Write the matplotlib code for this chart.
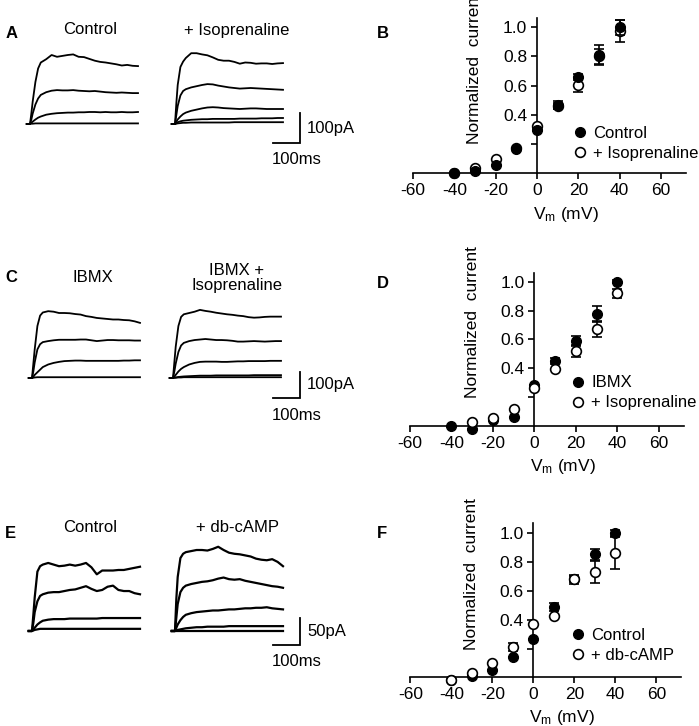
import numpy as np
import matplotlib
matplotlib.use('Agg')
import matplotlib.pyplot as plt
from matplotlib.lines import Line2D

plt.rcParams.update({
    'font.family': ['Liberation Sans', 'DejaVu Sans'],
    'axes.unicode_minus': False,
    'mathtext.fontset': 'custom',
    'mathtext.rm': 'Liberation Sans',
    'mathtext.it': 'Liberation Sans:italic',
    'mathtext.bf': 'Liberation Sans:bold',
})

# ---- current traces (pA) sampled at these times (ms from step onset) ----
t_ms = [-12, 0, 5, 10, 20, 30, 40, 60, 80, 100, 120, 140, 160, 180, 200,
        220, 240, 260, 280, 300, 320, 340, 360, 380, 400]

a_control = [
    [0, 0, 35, 75, 140, 185, 205, 216, 230, 224, 227, 230, 232, 224, 223, 217, 211, 207, 205, 202, 199, 195, 197, 194, 193],
    [0, 0, 15, 35, 65, 85, 97, 106, 111, 113, 112, 112, 113, 111, 110, 109, 110, 108, 106, 105, 104, 105, 104, 103, 103],
    [0, 0, 4, 8, 15, 21, 25, 31, 34, 36, 37, 38, 38, 39, 39, 40, 40, 39, 40, 39, 39, 40, 39, 39, 40],
    [0, 0, 1, 1, 2, 2, 2, 2, 2, 2, 2, 2, 2, 2, 2, 2, 2, 2, 2, 2, 2, 2, 2, 2, 2],
]
a_iso = [
    [0, 0, 70, 130, 190, 208, 220, 236, 236, 232, 229, 222, 214, 211, 211, 207, 201, 205, 204, 201, 202, 202, 200, 202, 203],
    [0, 0, 30, 60, 95, 110, 116, 122, 126, 130, 133, 132, 128, 125, 122, 120, 118, 119, 120, 119, 118, 117, 116, 115, 114],
    [0, 0, 8, 15, 25, 33, 38, 44, 48, 52, 55, 56, 55, 53, 52, 51, 50, 51, 52, 52, 51, 50, 50, 50, 50],
    [0, 0, 3, 6, 9, 11, 12, 14, 15, 16, 16, 17, 17, 17, 17, 17, 18, 18, 18, 18, 19, 19, 19, 20, 20],
    [0, 0, 1, 2, 3, 4, 4, 5, 5, 5, 5, 5, 5, 5, 5, 6, 6, 6, 6, 6, 6, 6, 6, 6, 6],
]
c_ibmx = [
    [0, 0, 55, 110, 200, 240, 252, 257, 255, 250, 250, 249, 246, 244, 238, 235, 231, 229, 227, 225, 225, 223, 222, 218, 212],
    [0, 0, 25, 60, 110, 130, 138, 142, 145, 147, 147, 147, 147, 148, 148, 145, 142, 144, 146, 146, 145, 145, 145, 144, 144],
    [0, 0, 5, 12, 22, 32, 42, 52, 58, 62, 65, 66, 67, 67, 66, 66, 66, 66, 66, 66, 66, 67, 67, 68, 68],
    [0, 0, 1, 2, 3, 3, 3, 3, 3, 3, 3, 3, 3, 3, 3, 3, 3, 3, 3, 3, 3, 3, 3, 3, 3],
]
c_iso = [
    [0, 0, 60, 120, 200, 235, 245, 250, 255, 262, 258, 255, 251, 248, 245, 243, 240, 238, 234, 232, 233, 235, 236, 236, 236],
    [0, 0, 25, 55, 100, 125, 135, 142, 146, 148, 150, 148, 146, 146, 145, 143, 140, 140, 141, 142, 141, 140, 141, 142, 142],
    [0, 0, 5, 12, 25, 35, 42, 52, 58, 62, 63, 63, 63, 62, 62, 63, 64, 64, 65, 65, 65, 65, 66, 66, 66],
    [0, 0, 1, 2, 4, 5, 6, 7, 8, 9, 9, 9, 10, 10, 10, 10, 10, 10, 10, 11, 11, 11, 11, 11, 11],
    [0, 0, 1, 1, 2, 2, 3, 3, 3, 3, 3, 3, 3, 3, 3, 3, 3, 3, 3, 3, 3, 3, 3, 3, 3],
]
e_control = [
    [0, 0, 30, 62, 110, 120, 123, 126, 123, 120, 121, 123, 121, 123, 126, 118, 105, 112, 112, 112, 113, 113, 115, 117, 119],
    [0, 0, 15, 35, 55, 65, 68, 71, 72, 72, 74, 76, 77, 80, 83, 78, 74, 76, 82, 84, 76, 74, 74, 70, 68],
    [0, 0, 3, 6, 12, 16, 19, 21, 22, 22, 22, 23, 23, 23, 23, 23, 23, 24, 24, 24, 24, 24, 24, 24, 24],
    [0, 0, 1, 2, 3, 4, 4, 4, 4, 4, 4, 4, 4, 4, 4, 4, 4, 4, 4, 4, 4, 4, 4, 4, 4],
]
e_dbcamp = [
    [0, 0, 60, 100, 135, 143, 146, 148, 150, 150, 149, 152, 156, 150, 145, 143, 142, 140, 138, 134, 132, 131, 133, 128, 120],
    [0, 0, 25, 50, 72, 80, 84, 87, 89, 91, 92, 94, 97, 99, 96, 95, 96, 93, 91, 89, 87, 85, 83, 82, 80],
    [0, 0, 6, 12, 20, 26, 30, 33, 35, 36, 37, 38, 38, 39, 40, 40, 41, 42, 42, 43, 43, 44, 42, 41, 40],
    [0, 0, 1, 2, 3, 4, 5, 6, 7, 7, 8, 8, 8, 8, 9, 9, 9, 9, 9, 9, 9, 9, 9, 9, 9],
    [0, 0, 0, 0, 0, 0, 0, 0, 0, 0, 0, 0, 0, 0, 0, 0, 0, 0, 0, 0, 0, 0, 0, 0, 0],
]

# ---- normalized I-V data ----
vm = [-40, -30, -20, -10, 0, 10, 20, 30, 40]

b_control = [0.005, 0.018, 0.057, 0.166, 0.296, 0.467, 0.656, 0.809, 0.998]
b_control_err = [0, 0, 0, 0, 0.01, 0.03, 0.02, 0.07, 0.05]
b_iso = [0.0, 0.034, 0.096, 0.175, 0.323, 0.46, 0.604, 0.80, 0.975]
b_iso_err = [0, 0, 0, 0, 0, 0.02, 0.045, 0.05, 0.075]

d_ibmx = [0.0, -0.023, 0.04, 0.065, 0.284, 0.45, 0.589, 0.776, 1.0]
d_ibmx_err = [0, 0, 0, 0, 0, 0.02, 0.037, 0.055, 0.01]
d_iso = [np.nan, 0.03, 0.053, 0.118, 0.261, 0.393, 0.522, 0.672, 0.919]
d_iso_err = [0, 0, 0, 0, 0, 0, 0.042, 0.053, 0.03]

f_control = [-0.018, 0.01, 0.05, 0.143, 0.264, 0.486, 0.68, 0.854, 1.0]
f_control_err = [0, 0, 0, 0, 0, 0.028, 0.02, 0.04, 0.02]
f_dbcamp = [-0.018, 0.032, 0.097, 0.208, 0.37, 0.426, 0.68, 0.729, 0.861]
f_dbcamp_err = [0, 0, 0, 0.028, 0, 0, 0.03, 0.076, 0.11]

W, H = 699, 726
fig = plt.figure(figsize=(W / 100, H / 100), dpi=100)


def px_axes(x0, y0, x1, y1):
    return fig.add_axes([x0 / W, 1 - y1 / H, (x1 - x0) / W, (y1 - y0) / H])


def ftext(x, y, s, **kw):
    fig.text(x / W, 1 - y / H, s, **kw)


MS_PX = 0.27  # pixels per ms (100 ms bar = 27 px)


def trace_panel(top, bot, base, on_l, on_r, pa_px, left, right, bar_pa, bar_bot, lw):
    ax = px_axes(20, top, 345, bot)
    ax.set_xlim((20 - on_l) / MS_PX, (345 - on_l) / MS_PX)
    ax.set_ylim((base - bot) / pa_px, (base - top) / pa_px)
    ax.axis('off')
    shift = (on_r - on_l) / MS_PX
    t = np.array(t_ms)
    for tr in left:
        ax.plot(t, tr, color='k', lw=lw)
    for tr in right:
        ax.plot(t + shift, tr, color='k', lw=lw)
    bx = (300 - on_l) / MS_PX
    by = (base - bar_bot) / pa_px
    ax.plot([bx - 100, bx, bx], [by, by, by + bar_pa], color='k', lw=1.3,
            solid_joinstyle='miter', clip_on=False)
    ax.text(bx + 7 / MS_PX, by + bar_pa / 2, f'{bar_pa}pA', ha='left', va='center',
            fontsize=12, clip_on=False)
    ax.text(bx - 3 / MS_PX, by - 17 / pa_px, '100ms', ha='center', va='center',
            fontsize=12, clip_on=False)
    return ax


def iv_panel(ox, oy, sx, sy, top, filled, filled_err, opened, opened_err,
             labels, open_on_top, leg_x, leg_y):
    xlo, xhi, ylo = -60, 72, -0.15
    ax = px_axes(ox + xlo * sx, oy - top * sy, ox + xhi * sx, oy - ylo * sy)
    ax.set_xlim(xlo, xhi)
    ax.set_ylim(ylo, top)
    ax.patch.set_alpha(0)
    for s in ['top', 'right']:
        ax.spines[s].set_visible(False)
    ax.spines['bottom'].set_position(('data', 0))
    ax.spines['left'].set_position(('data', 0))
    ax.spines['left'].set_bounds(0, top)
    for s in ['bottom', 'left']:
        ax.spines[s].set_linewidth(1.2)
    ax.set_xticks([-60, -40, -20, 0, 20, 40, 60])
    ax.set_yticks([0.2, 0.4, 0.6, 0.8, 1.0])
    ax.set_yticklabels(['', '0.4', '0.6', '0.8', '1.0'])
    ax.tick_params(direction='out', length=4, width=1.2, labelsize=12.5, pad=3)
    z_f, z_o = (3, 4) if open_on_top else (4, 3)
    ax.errorbar(vm, filled, yerr=filled_err, fmt='o', ms=7, mfc='k', mec='k',
                ecolor='k', elinewidth=1.2, capsize=3.5, capthick=1.2, zorder=z_f)
    ax.errorbar(vm, opened, yerr=opened_err, fmt='o', ms=7, mfc='white', mec='k',
                mew=1.2, ecolor='k', elinewidth=1.2, capsize=3.5, capthick=1.2, zorder=z_o)
    ax.text(-30, 0.72, 'Normalized  current', rotation=90, ha='center', va='center',
            fontsize=12.5)
    ax.text(14, -0.28, r'V$_{\rm m}$ (mV)', ha='center', va='center', fontsize=12.5)
    handles = [Line2D([], [], ls='', marker='o', ms=7, mfc='k', mec='k'),
               Line2D([], [], ls='', marker='o', ms=7, mfc='white', mec='k', mew=1.2)]
    ax.legend(handles, labels, loc='center left', bbox_to_anchor=(leg_x, leg_y),
              bbox_transform=ax.transData, frameon=False, fontsize=12,
              borderpad=0, borderaxespad=0, handlelength=1.0, handletextpad=0.3,
              labelspacing=0.3)
    return ax


# ---- trace rows ----
trace_panel(38, 172, 124, 30, 175, 0.30, a_control, a_iso, 100, 143, 1.3)
trace_panel(298, 425, 378, 32, 173, 0.26, c_ibmx, c_iso, 100, 398, 1.3)
trace_panel(528, 680, 631, 32, 175, 0.54, e_control, e_dbcamp, 50, 645, 1.6)

ftext(90, 30, 'Control', ha='center', va='center', fontsize=12)
ftext(237, 30, '+ Isoprenaline', ha='center', va='center', fontsize=12)
ftext(93, 278, 'IBMX', ha='center', va='center', fontsize=12)
ftext(237, 278, 'IBMX +\nIsoprenaline', ha='center', va='center', fontsize=12,
      linespacing=1.0)
ftext(90, 528, 'Control', ha='center', va='center', fontsize=12)
ftext(237, 528, '+ db-cAMP', ha='center', va='center', fontsize=12)

# ---- I-V plots ----
iv_panel(537, 173.3, 2.067, 146.3, 1.06, b_control, b_control_err, b_iso, b_iso_err,
         ['Control', '+ Isoprenaline'], False, 16.7, 0.207)
iv_panel(534.3, 426, 2.075, 144.3, 1.062, d_ibmx, d_ibmx_err, d_iso, d_iso_err,
         ['IBMX', '+ Isoprenaline'], True, 17, 0.229)
iv_panel(533.3, 677.3, 2.05, 144, 1.07, f_control, f_control_err, f_dbcamp, f_dbcamp_err,
         ['Control', '+ db-cAMP'], True, 17.7, 0.22)

# ---- panel letters ----
for letter, x, y in [('A', 12, 33), ('B', 383, 33), ('C', 11, 278),
                     ('D', 383, 283), ('E', 10, 534), ('F', 382, 534)]:
    ftext(x, y, letter, ha='center', va='center', fontsize=12, fontweight='bold')

fig.savefig('out.png', dpi=100)
